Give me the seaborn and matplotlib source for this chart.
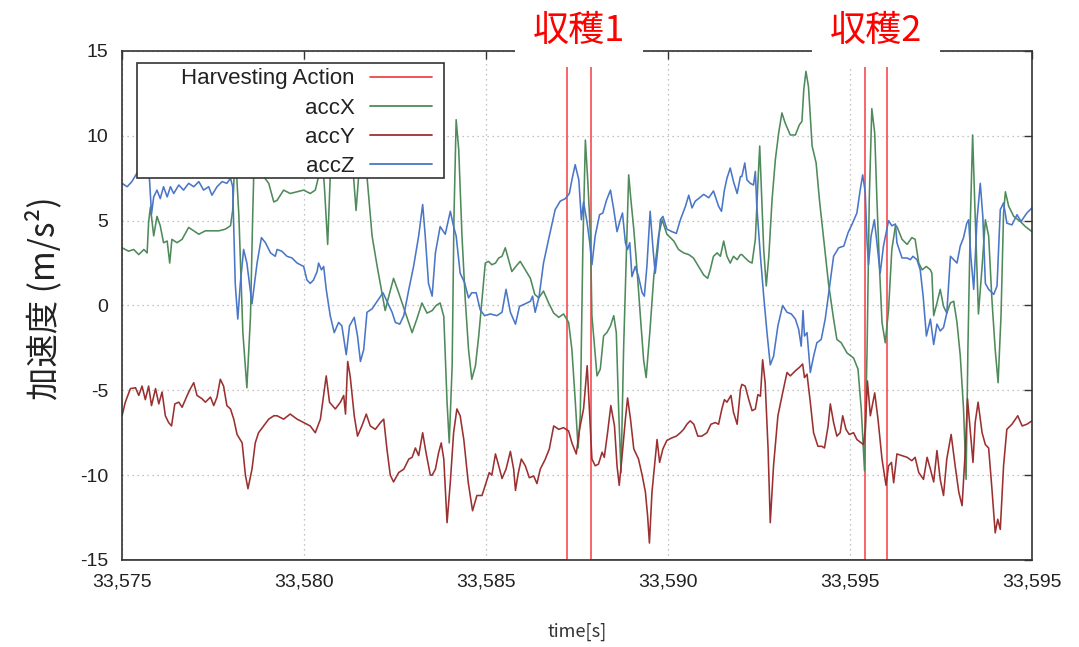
import numpy as np
import pandas as pd
import matplotlib
matplotlib.use("Agg")
import matplotlib.pyplot as plt
import matplotlib.transforms as mtransforms
from matplotlib.patches import Rectangle
from matplotlib.lines import Line2D
import seaborn as sns

# time axis: seconds after T0
T0 = 33575
XTICK_POS = [0, 5, 10, 15, 20, 25]
XTICK_LABELS = ["33,575", "33,580", "33,585", "33,590", "33,595", "33,595"]
YTICKS = [-15, -10, -5, 0, 5, 10, 15]

SERIES = ["Harvesting Action", "accX", "accY", "accZ"]
COLORS = ["#f2454a", "#4f8a5b", "#9b3030", "#4a76c8"]

# harvesting action: -15 idle, +15 while harvesting
harvest_t = [0, 12.23, 12.23, 12.89, 12.89, 20.41, 20.41, 21.01, 21.01, 25]
harvest_v = [-15, -15, 15, 15, -15, -15, 15, 15, -15, -15]
harvest_names = ["収穫1", "収穫2"]

acc_x_t = [0.00, 0.18, 0.32, 0.46, 0.60, 0.69, 0.73, 0.78, 0.87, 0.96,
           1.05, 1.14, 1.24, 1.31, 1.37, 1.51, 1.65, 1.83, 1.97, 2.11,
           2.29, 2.47, 2.66, 2.84, 2.98, 3.04, 3.11, 3.21, 3.32, 3.43,
           3.53, 3.59, 3.64, 3.75, 3.89, 4.03, 4.17,
           4.26, 4.44, 4.62, 4.81, 4.99, 5.17, 5.31, 5.40, 5.47, 5.56,
           5.65, 5.72, 5.80, 6.29, 6.36, 6.43, 6.50, 6.59, 6.73, 6.87,
           7.01, 7.23, 7.33, 7.46, 7.60, 7.78, 7.97, 8.10, 8.24, 8.38,
           8.52, 8.63, 8.74, 8.84, 8.93, 8.99, 9.07, 9.12, 9.18, 9.25,
           9.34, 9.43, 9.52, 9.61, 9.71, 9.80, 9.89, 9.98, 10.07, 10.16,
           10.26, 10.35, 10.44, 10.53, 10.62, 10.71, 10.82, 10.94, 11.08, 11.22,
           11.34, 11.45, 11.58, 11.72, 11.86, 12.00, 12.13, 12.27, 12.36, 12.45,
           12.53, 12.59, 12.66, 12.73, 12.80, 12.87,
           12.91, 13.05, 13.14, 13.23, 13.32, 13.42, 13.51, 13.58, 13.65, 13.71,
           13.78, 13.86, 13.92, 13.98, 14.06, 14.15, 14.24, 14.33, 14.40, 14.50,
           14.61, 14.74, 14.84, 14.97, 15.16, 15.29, 15.43, 15.57, 15.70, 15.84,
           15.98, 16.09, 16.16, 16.25, 16.35, 16.44, 16.53, 16.62, 16.71, 16.80,
           16.90, 16.99,
           17.03, 17.12, 17.22, 17.31, 17.40, 17.47, 17.52, 17.56, 17.63, 17.70,
           17.77, 17.86, 17.95, 18.04, 18.13, 18.22, 18.36, 18.50, 18.61, 18.68,
           18.73, 18.79, 18.86, 18.96, 19.07, 19.16, 19.28, 19.41, 19.55, 19.64,
           19.76, 19.92, 20.10, 20.22, 20.31, 20.40, 20.47, 20.53, 20.60, 20.68,
           20.74, 20.81, 20.88, 20.97, 21.06, 21.15, 21.25,
           21.29, 21.43, 21.57, 21.70, 21.79, 21.89, 21.98, 22.10, 22.21, 22.25,
           22.30, 22.39, 22.48, 22.57, 22.66, 22.76, 22.85, 22.94, 23.03, 23.12,
           23.19, 23.24, 23.31, 23.37, 23.44, 23.53, 23.63, 23.72, 23.81, 23.90,
           23.99, 24.07, 24.15, 24.22, 24.27, 24.36, 24.50, 24.68, 24.82, 25.00]
acc_x_v = [3.4, 3.2, 3.3, 3.0, 3.3, 3.1, 4.9, 5.8, 4.1, 5.25,
           4.7, 3.7, 3.8, 2.5, 3.9, 3.7, 3.9, 4.6, 4.4, 4.2,
           4.4, 4.4, 4.4, 4.5, 4.7, 5.6, 9.2, 5.3, -1.6, -4.85,
           -0.6, 5.3, 9.5, 9.5, 7.6, 7.2, 6.1,
           6.2, 6.8, 6.6, 6.7, 6.8, 6.6, 6.8, 7.6, 9.5, 7.0,
           3.6, 7.6, 9.5, 9.5, 7.6, 5.6, 7.6, 9.5, 7.6, 4.1,
           2.3, -0.3, 0.55, 1.6, 0.75, -0.4, -1.6, -0.8, 0.15, -0.45,
           -0.3, 0.0, 0.15, -0.65, -5.7, -8.1, -3.55, 5.25, 10.95, 9.2,
           4.1, 0.35, -2.6, -4.35, -3.55, -1.8, 0.35, 2.5, 2.6, 2.4,
           2.5, 2.8, 2.9, 3.4, 2.7, 2.0, 2.3, 2.6, 2.1, 1.6,
           0.65, 0.45, 0.85, 0.15, -0.45, -0.7, -0.5, -1.0, -2.6, -5.55,
           -8.4, -6.5, 3.3, 9.75, 7.2, 4.1,
           -0.6, -4.15, -3.75, -1.8, -1.6, -1.2, -0.6, -1.6, -6.5, -9.85,
           -2.6, 3.3, 7.7, 6.25, 4.5, 2.1, -0.6, -3.2, -4.25, -1.6,
           1.7, 4.1, 5.05, 4.2, 3.8, 3.3, 3.1, 3.0, 2.8, 2.3,
           1.8, 1.6, 2.1, 2.9, 3.1, 2.9, 3.8, 2.9, 2.5, 2.9,
           2.7, 3.0,
           3.0, 2.8, 2.6, 2.5, 3.9, 7.2, 9.4, 7.2, 3.3, 1.15,
           2.9, 6.25, 8.6, 10.15, 11.35, 10.75, 10.05, 10.05, 10.65, 10.85,
           12.7, 13.8, 12.9, 9.4, 8.4, 6.25, 3.9, 1.3, -0.8, -2.0,
           -2.2, -2.8, -3.1, -3.75, -6.1, -9.75, -2.6, 6.25, 11.6, 10.15,
           6.25, 2.3, -1.0, -2.2, -0.25, 3.3, 4.7,
           4.65, 3.9, 3.6, 4.0, 3.9, 2.5, 2.1, 2.3, 2.1, 1.9,
           -0.6, 0.15, 0.95, -0.05, -0.45, 0.15, 0.25, -1.0, -2.95, -6.1,
           -10.25, -2.6, 5.25, 10.05, 5.25, -0.5, 2.3, 5.05, 4.1, 0.35,
           -2.6, -4.55, -0.6, 5.45, 6.7, 5.85, 5.25, 4.95, 4.65, 4.35]

acc_y_t = [0.00, 0.09, 0.23, 0.37, 0.46, 0.55, 0.64, 0.73, 0.81, 0.92,
           1.01, 1.10, 1.19, 1.28, 1.36, 1.45, 1.56, 1.65, 1.79, 1.88,
           1.97, 2.06, 2.20, 2.29, 2.43, 2.52, 2.61, 2.70, 2.79, 2.88,
           2.98, 3.07, 3.16, 3.30, 3.39, 3.46, 3.57, 3.66, 3.75, 3.89,
           4.03, 4.17,
           4.26, 4.44, 4.62, 4.81, 4.99, 5.17, 5.31, 5.45, 5.61, 5.70,
           5.86, 6.00, 6.09, 6.14, 6.20, 6.27, 6.38, 6.47, 6.59, 6.71,
           6.82, 6.96, 7.10, 7.19, 7.28, 7.37, 7.46, 7.60, 7.74, 7.88,
           7.97, 8.06, 8.15, 8.26, 8.35, 8.47,
           8.52, 8.61, 8.70, 8.77, 8.84, 8.93, 9.02, 9.11, 9.20, 9.29,
           9.39, 9.51, 9.63, 9.75, 9.89, 9.98, 10.09, 10.16, 10.26, 10.35,
           10.44, 10.55, 10.67, 10.76, 10.81, 10.88, 10.97, 11.08, 11.19, 11.31,
           11.40, 11.49, 11.63, 11.74, 11.86, 12.00, 12.13, 12.27, 12.36, 12.48,
           12.57, 12.68,
           12.78, 12.85, 12.91, 13.00, 13.09, 13.19, 13.25, 13.34, 13.43, 13.53,
           13.60, 13.66, 13.74, 13.83, 13.89, 13.97, 14.06, 14.19, 14.29, 14.38,
           14.44, 14.49, 14.56, 14.63, 14.70, 14.77, 14.86, 14.97, 15.11, 15.23,
           15.34, 15.43, 15.52, 15.61, 15.71, 15.82, 15.93, 16.07, 16.18, 16.30,
           16.39, 16.48, 16.55, 16.62, 16.73, 16.80, 16.90, 16.99,
           17.03, 17.12, 17.22, 17.31, 17.40, 17.47, 17.54, 17.60, 17.67, 17.75,
           17.81, 17.90, 18.02, 18.15, 18.27, 18.36, 18.50, 18.61, 18.70, 18.75,
           18.82, 18.91, 19.00, 19.12, 19.23, 19.30, 19.40, 19.46, 19.55, 19.64,
           19.73, 19.80, 19.89, 19.98, 20.10, 20.19, 20.31, 20.37, 20.42, 20.48,
           20.56, 20.68, 20.77, 20.88, 20.99, 21.06, 21.14, 21.20,
           21.29, 21.43, 21.57, 21.70, 21.79, 21.89, 22.02, 22.12, 22.21, 22.30,
           22.39, 22.48, 22.57, 22.66, 22.78, 22.89, 22.99, 23.08, 23.17, 23.23,
           23.31, 23.38, 23.44, 23.52, 23.63, 23.72, 23.81, 23.90, 23.99, 24.06,
           24.13, 24.22, 24.31, 24.45, 24.61, 24.73, 24.86, 25.00]
acc_y_v = [-6.5, -5.7, -4.9, -4.85, -5.3, -4.75, -5.55, -4.75, -5.9, -4.9,
           -5.8, -5.1, -6.5, -6.9, -7.1, -5.8, -5.7, -6.0, -5.3, -4.9,
           -4.55, -5.3, -5.5, -5.7, -5.4, -5.9, -5.4, -4.35, -4.75, -5.9,
           -6.1, -6.7, -7.6, -8.1, -10.0, -10.8, -9.65, -8.1, -7.5, -7.1,
           -6.7, -6.5,
           -6.5, -6.7, -6.4, -6.7, -6.9, -7.1, -7.5, -6.7, -4.15, -5.7,
           -6.1, -5.7, -5.3, -6.4, -3.3, -4.2, -6.5, -7.7, -7.1, -6.4,
           -7.1, -7.3, -6.9, -6.7, -8.5, -10.0, -10.4, -9.85, -9.65, -9.05,
           -8.95, -8.4, -8.85, -7.5, -8.65, -10.0,
           -10.0, -9.65, -8.65, -8.1, -9.05, -12.8, -10.4, -7.5, -6.1, -6.5,
           -7.9, -10.4, -12.1, -11.2, -11.2, -10.6, -9.85, -10.0, -8.75, -9.45,
           -10.2, -9.65, -8.6, -9.65, -10.9, -9.95, -9.05, -9.45, -10.15, -10.05,
           -10.5, -9.65, -9.05, -8.45, -7.1, -7.3, -7.2, -7.4, -8.1, -8.75,
           -7.3, -6.1,
           -3.55, -6.5, -9.05, -9.45, -9.35, -8.65, -8.95, -7.5, -5.9, -7.1,
           -9.45, -10.6, -8.85, -6.7, -5.45, -6.7, -8.45, -9.05, -10.0, -11.0,
           -12.4, -14.0, -11.0, -9.45, -7.9, -9.25, -8.45, -7.95, -7.8, -7.7,
           -7.5, -7.3, -7.0, -6.8, -7.0, -7.7, -7.7, -7.5, -7.0, -6.9,
           -7.0, -6.1, -5.55, -5.7, -5.3, -6.3, -7.0, -4.95,
           -4.65, -4.75, -5.55, -6.2, -6.1, -5.25, -5.35, -3.2, -4.55, -8.45,
           -12.8, -9.45, -6.5, -5.15, -3.95, -4.15, -3.85, -3.65, -3.45, -4.25,
           -4.05, -5.7, -7.5, -8.3, -8.3, -8.4, -7.1, -5.8, -6.9, -7.7,
           -7.5, -6.5, -7.3, -7.6, -7.5, -7.9, -8.1, -8.2, -7.3, -4.45,
           -6.5, -5.15, -6.7, -9.05, -10.6, -9.45, -9.25, -10.45,
           -8.75, -8.85, -8.95, -9.15, -8.95, -9.85, -10.25, -8.95, -9.65, -10.4,
           -8.55, -10.25, -11.2, -9.05, -7.6, -9.45, -11.0, -11.8, -8.5, -5.5,
           -7.5, -9.25, -6.9, -5.7, -7.5, -8.2, -8.4, -10.8, -13.4, -12.6,
           -13.2, -9.45, -7.3, -7.0, -6.5, -7.1, -7.0, -6.8]

acc_z_t = [0.00, 0.14, 0.27, 0.41, 0.64, 0.75, 0.81, 0.87, 0.96, 1.05,
           1.14, 1.24, 1.33, 1.42, 1.56, 1.69, 1.83, 1.97, 2.11, 2.24,
           2.38, 2.47, 2.61, 2.75, 2.88, 2.98, 3.04, 3.11, 3.18, 3.25,
           3.34, 3.43, 3.57, 3.71, 3.83, 3.94, 4.08, 4.21,
           4.26, 4.39, 4.53, 4.67, 4.81, 4.99, 5.08, 5.17, 5.26, 5.36,
           5.40, 5.48, 5.54, 5.61, 5.72, 5.83, 5.95, 6.04, 6.16, 6.25,
           6.38, 6.47, 6.55, 6.64, 6.73, 6.87, 7.01, 7.17, 7.28, 7.42,
           7.51, 7.63, 7.74, 7.88, 8.01, 8.15, 8.26, 8.33, 8.42,
           8.52, 8.61, 8.74, 8.88, 9.02, 9.11, 9.18, 9.29, 9.41, 9.52,
           9.61, 9.73, 9.84, 9.96, 10.12, 10.30, 10.44, 10.55, 10.67, 10.81,
           10.92, 11.03, 11.22, 11.28, 11.35, 11.46, 11.58, 11.72, 11.90, 12.04,
           12.18, 12.29, 12.36, 12.45, 12.55, 12.62, 12.68,
           12.78, 12.85, 12.91, 13.00, 13.12, 13.21, 13.31, 13.42, 13.51, 13.60,
           13.69, 13.75, 13.83, 13.89, 13.95, 14.01, 14.10, 14.19, 14.29, 14.35,
           14.42, 14.51, 14.59, 14.65, 14.72, 14.79, 14.86, 14.97, 15.11, 15.23,
           15.34, 15.48, 15.57, 15.66, 15.75, 15.87, 15.98, 16.12, 16.25, 16.39,
           16.47, 16.55, 16.62, 16.71, 16.80, 16.90, 16.99,
           17.03, 17.11, 17.17, 17.26, 17.35, 17.40, 17.44, 17.54, 17.63, 17.72,
           17.81, 17.90, 18.02, 18.15, 18.27, 18.39, 18.50, 18.59, 18.66, 18.71,
           18.75, 18.82, 18.91, 19.00, 19.09, 19.21, 19.32, 19.43, 19.55, 19.69,
           19.83, 19.95, 20.06, 20.19, 20.28, 20.35, 20.42, 20.47, 20.51, 20.58,
           20.67, 20.74, 20.83, 20.92, 21.06, 21.15, 21.25,
           21.29, 21.43, 21.57, 21.66, 21.73, 21.84, 21.93, 22.01, 22.10, 22.21,
           22.30, 22.39, 22.48, 22.57, 22.66, 22.76, 22.85, 22.94, 23.03, 23.12,
           23.21, 23.26, 23.32, 23.40, 23.49, 23.58, 23.65, 23.72, 23.81, 23.95,
           24.04, 24.13, 24.22, 24.31, 24.45, 24.59, 24.70, 24.86, 25.00]
acc_z_v = [7.2, 7.0, 7.3, 7.8, 7.7, 7.6, 5.4, 6.4, 6.8, 6.3,
           7.0, 6.4, 7.0, 6.6, 7.1, 6.8, 7.2, 7.0, 7.3, 6.8,
           7.0, 6.5, 7.0, 7.3, 7.2, 7.5, 7.0, 1.3, -0.8, 1.3,
           3.3, 2.5, 0.1, 2.5, 4.0, 3.7, 3.1, 2.9,
           3.3, 3.2, 2.9, 2.8, 2.5, 2.3, 1.5, 1.3, 1.5, 2.0,
           2.5, 2.1, 2.3, 0.95, -0.6, -1.6, -1.0, -1.2, -2.9, -1.2,
           -0.7, -1.8, -3.3, -2.6, -0.4, -0.2, 0.25, 0.75, 0.25, -0.4,
           -1.0, -1.1, -0.6, 0.95, 2.3, 4.1, 5.95, 4.1, 1.3,
           0.55, 3.1, 4.65, 4.2, 5.55, 4.65, 4.1, 1.9, 1.35, 0.45,
           0.75, 0.75, -0.25, -0.6, -0.5, -0.6, -0.4, 0.95, -0.4, -1.1,
           -0.05, 0.05, 0.25, 0.55, -0.4, 0.55, 2.5, 3.9, 5.65, 6.15,
           6.3, 6.6, 7.4, 8.3, 7.4, 5.05, 6.1,
           4.85, 3.7, 2.4, 4.1, 5.35, 5.45, 6.2, 6.8, 5.65, 4.35,
           5.05, 5.45, 3.7, 3.3, 3.7, 1.7, 2.3, 1.7, 0.75, 0.55,
           2.3, 5.55, 3.3, 1.9, 3.3, 5.05, 5.25, 4.5, 4.35, 4.25,
           5.05, 5.85, 6.5, 5.75, 6.15, 6.35, 6.55, 6.35, 6.75, 5.85,
           5.55, 6.8, 7.5, 8.1, 7.3, 6.6, 7.6,
           7.6, 8.4, 7.4, 7.2, 7.1, 7.9, 5.85, 2.9, 0.55, -1.6,
           -3.5, -3.0, -1.2, 0.0, -0.4, -0.5, -0.8, -1.4, -2.4, -0.3,
           -1.8, -1.6, -3.95, -3.0, -2.2, -2.0, -0.8, 0.95, 2.9, 3.4,
           3.5, 4.3, 4.8, 5.45, 6.8, 7.7, 6.65, 3.7, 2.4, 4.1,
           5.05, 3.7, 1.9, 3.5, 5.0, 4.7, 4.8,
           3.7, 2.8, 2.8, 2.7, 2.9, 2.7, 2.1, 0.55, -1.8, -0.8,
           -2.3, -1.1, -1.5, -1.3, -0.45, 2.9, 2.7, 2.5, 3.5, 4.0,
           4.85, 5.05, 2.9, 0.95, 5.05, 7.2, 5.25, 1.3, 0.95, 0.65,
           1.15, 5.65, 6.05, 4.85, 4.75, 5.35, 4.95, 5.45, 5.75]

sns.set_style("white")
plt.rcParams["font.family"] = ["Liberation Sans", "Noto Sans CJK JP", "DejaVu Sans"]
plt.rcParams["axes.unicode_minus"] = False
JP = ["Noto Sans CJK JP", "DejaVu Sans"]

frames = []
for name, t, v in zip(SERIES, [harvest_t, acc_x_t, acc_y_t, acc_z_t],
                      [harvest_v, acc_x_v, acc_y_v, acc_z_v]):
    frames.append(pd.DataFrame({"time": T0 + np.asarray(t, dtype=float),
                                "value": v, "series": name}))
df = pd.concat(frames, ignore_index=True)
palette = dict(zip(SERIES, COLORS))

fig = plt.figure(figsize=(10.79, 6.47), dpi=100)
ax = fig.add_axes([0.1131, 0.1345, 0.8433, 0.7867])

sns.lineplot(data=df, x="time", y="value", hue="series", hue_order=SERIES,
             palette=palette, estimator=None, sort=False, legend=False,
             linewidth=1.15, ax=ax)

ax.set_xlim(T0, T0 + 25)
ax.set_ylim(-15, 15)
ax.set_xticks([T0 + p for p in XTICK_POS])
ax.set_xticklabels(XTICK_LABELS)
ax.set_yticks(YTICKS)
ax.grid(True, linestyle=(0, (1, 3)), color="#b0b0b0", linewidth=0.9)
ax.tick_params(direction="in", length=6, width=1, top=True, right=True,
               labelsize=14, pad=10, labelcolor="#222222", color="#333333")
for sp in ax.spines.values():
    sp.set_color("#333333")
    sp.set_linewidth(1.2)

ax.set_xlabel("time[s]", fontsize=13, color="#333333", family=JP)
ax.xaxis.set_label_coords(0.5, -0.124)
ax.set_ylabel("加速度 (m/s²)", fontsize=24, color="#222222", family=JP)
ax.yaxis.set_label_coords(-0.066, 0.515)

# gnuplot-like key: opaque box with right-aligned labels
box_l, box_r, box_b, box_t = 0.0165, 0.3538, 0.7505, 0.9764
ax.add_patch(Rectangle((box_l, box_b), box_r - box_l, box_t - box_b,
                       transform=ax.transAxes, facecolor="white",
                       edgecolor="#333333", linewidth=1.2, zorder=4))
handles = [Line2D([], [], color=c, linewidth=1.3) for c in COLORS]
leg = ax.legend(handles, SERIES, loc="upper right",
                bbox_to_anchor=(box_r - 0.008, box_t - 0.002),
                markerfirst=False, frameon=False, fontsize=16,
                handlelength=2.8, handletextpad=0.68, labelspacing=0.37,
                borderpad=0.2, borderaxespad=0)
for txt in leg.get_texts():
    txt.set_color("#222222")
leg.set_zorder(5)

# harvest labels above each pulse, on white boxes that hide the top border
trans = mtransforms.blended_transform_factory(ax.transData, ax.transAxes)
for i, name in enumerate(harvest_names):
    mid = T0 + (harvest_t[4 * i + 1] + harvest_t[4 * i + 3]) / 2
    ax.text(mid, 1.04, name, transform=trans, ha="center", va="center",
            color="#ff0000", fontsize=26, family=JP, zorder=6, clip_on=False,
            bbox=dict(boxstyle="square,pad=0.5", facecolor="white",
                      edgecolor="none"))

fig.savefig("out.png", dpi=100)
